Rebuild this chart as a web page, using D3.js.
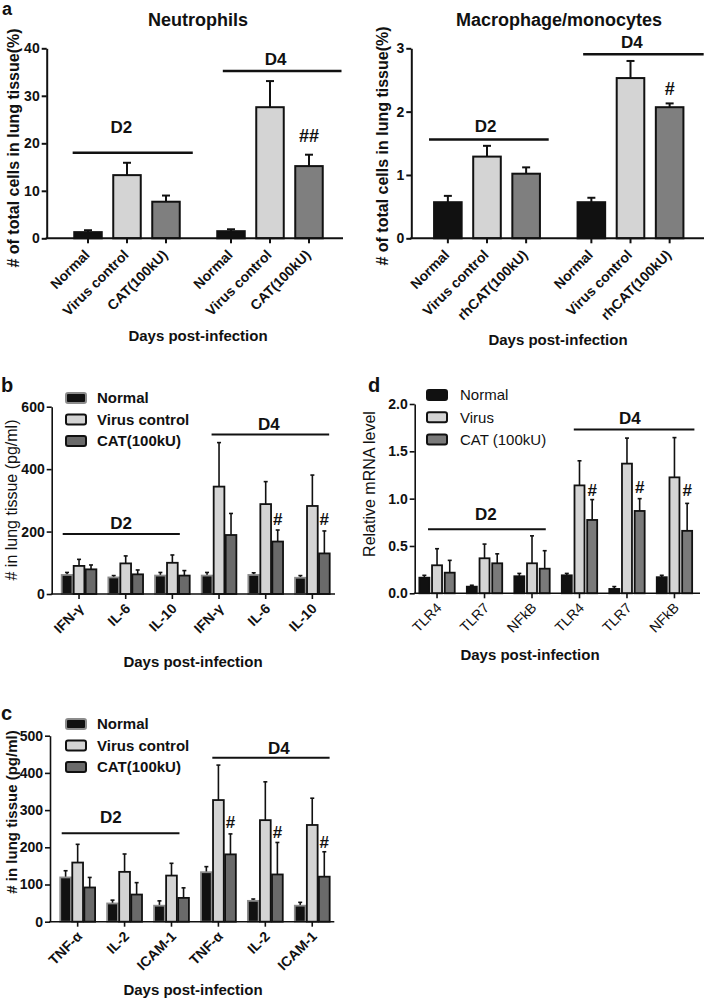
<!DOCTYPE html>
<html><head><meta charset="utf-8">
<script src="https://cdn.jsdelivr.net/npm/d3@7"></script>
<style>
body{margin:0;background:#fff}
svg{display:block}
text{font-family:"Liberation Sans",Arial,sans-serif;fill:#111}
</style>
</head><body>
<svg id="fig" width="704" height="1000"></svg>
<script>
// ---------------- DATA ----------------
const days = ["D2", "D4"];

// Panel a (left): Neutrophils
const neutroTreat = ["Normal", "Virus control", "CAT(100kU)"];
const neutroD2 = [1.3, 13.3, 7.7];
const neutroD2Err = [0.4, 2.6, 1.3];
const neutroD4 = [1.5, 27.6, 15.2];
const neutroD4Err = [0.4, 5.5, 2.4];
const neutroTicks = [0, 10, 20, 30, 40];

// Panel a (right): Macrophage/monocytes
const macroTreat = ["Normal", "Virus control", "rhCAT(100kU)"];
const macroD2 = [0.57, 1.29, 1.02];
const macroD2Err = [0.10, 0.17, 0.10];
const macroD4 = [0.57, 2.53, 2.07];
const macroD4Err = [0.07, 0.27, 0.06];
const macroTicks = [0, 1, 2, 3];

// Panel b
const bCats = ["IFN-γ", "IL-6", "IL-10", "IFN-γ", "IL-6", "IL-10"];
const bSeries = ["Normal", "Virus control", "CAT(100kU)"];
const bNormal = [61, 53, 59, 59, 61, 52];
const bNormalErr = [8, 6, 10, 10, 7, 7];
const bVirus = [90, 98, 100, 344, 288, 282];
const bVirusErr = [21, 24, 25, 141, 72, 99];
const bCAT = [79, 63, 59, 189, 168, 130];
const bCATErr = [14, 14, 16, 69, 37, 72];
const bTicks = [0, 200, 400, 600];

// Panel c
const cCats = ["TNF-α", "IL-2", "ICAM-1", "TNF-α", "IL-2", "ICAM-1"];
const cSeries = ["Normal", "Virus control", "CAT(100kU)"];
const cNormal = [119, 49, 43, 133, 56, 43];
const cNormalErr = [18, 9, 13, 15, 5, 9];
const cVirus = [159, 134, 124, 327, 273, 260];
const cVirusErr = [49, 48, 33, 94, 103, 72];
const cCAT = [92, 73, 64, 181, 127, 121];
const cCATErr = [27, 32, 27, 55, 86, 67];
const cTicks = [0, 100, 200, 300, 400, 500];

// Panel d
const dCats = ["TLR4", "TLR7", "NFkB", "TLR4", "TLR7", "NFkB"];
const dSeries = ["Normal", "Virus", "CAT (100kU)"];
const dNormal = [0.165, 0.07, 0.18, 0.19, 0.046, 0.17];
const dNormalErr = [0.025, 0.015, 0.03, 0.02, 0.025, 0.02];
const dVirus = [0.296, 0.37, 0.317, 1.14, 1.37, 1.225];
const dVirusErr = [0.175, 0.15, 0.29, 0.26, 0.27, 0.42];
const dCAT = [0.218, 0.317, 0.26, 0.775, 0.87, 0.66];
const dCATErr = [0.13, 0.10, 0.19, 0.215, 0.13, 0.29];
const dTicks = [0, 0.5, 1.0, 1.5, 2.0];

// Day brackets (value level, label level, extent in category units)
const aLeftBrackets = [
  {label: "D2", y: 18, ly: 22.2, from: 0.12, to: 0.96, lx: 0.46},
  {label: "D4", y: 35.2, ly: 36.5, from: 1.17, to: 2.0, lx: 1.54}];
const aRightBrackets = [
  {label: "D2", y: 1.56, ly: 1.68, from: 0.096, to: 0.93, lx: 0.49},
  {label: "D4", y: 2.905, ly: 3.0, from: 1.17, to: 2.01, lx: 1.51}];
const bBrackets = [
  {label: "D2", y: 192, ly: 207, from: 0.15, to: 2.66, lx: 1.4},
  {label: "D4", y: 511, ly: 525, from: 3.34, to: 5.86, lx: 4.57}];
const cBrackets = [
  {label: "D2", y: 238, ly: 264, from: 0.16, to: 2.67, lx: 1.21},
  {label: "D4", y: 441, ly: 450, from: 3.37, to: 5.87, lx: 4.79}];
const dBrackets = [
  {label: "D2", y: 0.676, ly: 0.774, from: 0.31, to: 2.79, lx: 1.53},
  {label: "D4", y: 1.73, ly: 1.785, from: 3.38, to: 5.92, lx: 4.56}];

// Significance marks: (group/category index, series index, value level)
const aLeftMarks = [{g: 1, s: 2, v: 20.3, t: "##"}];
const aRightMarks = [{g: 1, s: 2, v: 2.26, t: "#"}];
const bMarks = [{g: 4, s: 2, v: 221, t: "#"}, {g: 5, s: 2, v: 221, t: "#"}];
const cMarks = [{g: 3, s: 2, v: 251, t: "#"}, {g: 4, s: 2, v: 224, t: "#"}, {g: 5, s: 2, v: 197, t: "#"}];
const dMarks = [{g: 3, s: 2, v: 1.027, t: "#"}, {g: 4, s: 2, v: 1.062, t: "#"}, {g: 5, s: 2, v: 1.027, t: "#"}];

// ---------------- DRAWING ----------------
const svg = d3.select("#fig");
const FONT = '"Liberation Sans",Arial,sans-serif';

function yAxis(g, y, ticks, fmt, frame, st) {
  const ax = g.append("g").attr("transform", `translate(${frame.left},0)`)
    .call(d3.axisLeft(y).tickValues(ticks).tickFormat(fmt).tickSize(5).tickSizeOuter(0).tickPadding(2));
  ax.select(".domain").attr("stroke", "#111").attr("stroke-width", st.axisW);
  ax.selectAll(".tick line").attr("stroke", "#111").attr("stroke-width", st.axisW);
  ax.selectAll(".tick text").attr("font-size", st.yTickSize).attr("font-weight", st.yTickWeight)
    .attr("font-family", FONT).attr("fill", "#111");
}

function xBaseline(g, y, frame, st) {
  g.append("line").attr("x1", frame.left - st.axisW / 2).attr("x2", frame.right)
    .attr("y1", y(0)).attr("y2", y(0)).attr("stroke", "#111").attr("stroke-width", st.axisW);
}

function drawBars(g, bars, y, st) {
  const bg = g.append("g");
  bg.selectAll("line.err").data(bars).join("line").attr("class", "err")
    .attr("x1", d => d.cx).attr("x2", d => d.cx)
    .attr("y1", d => y(d.v)).attr("y2", d => y(d.v + d.e))
    .attr("stroke", "#111").attr("stroke-width", st.errW);
  bg.selectAll("line.cap").data(bars).join("line").attr("class", "cap")
    .attr("x1", d => d.cx - st.cap / 2).attr("x2", d => d.cx + st.cap / 2)
    .attr("y1", d => y(d.v + d.e)).attr("y2", d => y(d.v + d.e))
    .attr("stroke", "#111").attr("stroke-width", st.errW);
  bg.selectAll("rect").data(bars).join("rect")
    .attr("x", d => d.x).attr("width", d => d.w)
    .attr("y", d => y(d.v)).attr("height", d => y(0) - y(d.v))
    .attr("fill", d => d.fill).attr("stroke", d => d.stroke).attr("stroke-width", st.barW);
}

function xLabels(g, items, y, st) {
  g.selectAll("line.xt").data(items).join("line").attr("class", "xt")
    .attr("x1", d => d.cx).attr("x2", d => d.cx).attr("y1", y(0)).attr("y2", y(0) + 5)
    .attr("stroke", "#111").attr("stroke-width", st.axisW);
  g.selectAll("text.xl").data(items).join("text").attr("class", "xl")
    .attr("transform", d => `translate(${d.cx + st.lx},${y(0) + st.ly}) rotate(-45)`)
    .attr("text-anchor", "end").attr("dy", "0.35em")
    .attr("font-size", st.xTickSize).attr("font-weight", st.xTickWeight)
    .text(d => d.label);
}

function brackets(g, list, xOf, y, st) {
  g.selectAll("line.br").data(list).join("line").attr("class", "br")
    .attr("x1", d => xOf(d.from)).attr("x2", d => xOf(d.to))
    .attr("y1", d => y(d.y)).attr("y2", d => y(d.y))
    .attr("stroke", "#111").attr("stroke-width", st.brW);
  g.selectAll("text.brl").data(list).join("text").attr("class", "brl")
    .attr("x", d => xOf(d.lx)).attr("y", d => y(d.ly))
    .attr("text-anchor", "middle").attr("font-size", st.dSize).attr("font-weight", "bold")
    .text(d => d.label);
}

function marks(g, list, barAt, y, st) {
  g.selectAll("text.mk").data(list).join("text").attr("class", "mk")
    .attr("x", d => barAt(d.g, d.s)).attr("y", d => y(d.v))
    .attr("text-anchor", "middle").attr("font-size", st.markSize).attr("font-weight", "bold")
    .text(d => d.t);
}

function text(g, x, y, s, size, weight, rot, anchor) {
  const t = g.append("text").attr("font-size", size).attr("font-weight", weight || "normal")
    .attr("text-anchor", anchor || "middle").text(s);
  if (rot) t.attr("transform", `translate(${x},${y}) rotate(${rot})`);
  else t.attr("x", x).attr("y", y);
  return t;
}

// ---- Panel type A (grouped by day, labels per bar) ----
function panelA(cfg) {
  const g = svg.append("g");
  const f = cfg.frame, st = cfg.style;
  const y = d3.scaleLinear().domain([0, cfg.ticks[cfg.ticks.length - 1]]).range([f.bottom, f.top]);
  const x0 = d3.scaleBand().domain(days).range(cfg.range).padding(0);
  const x1 = d3.scaleBand().domain(cfg.treat).range([0, x0.bandwidth()])
    .paddingInner(0.295).paddingOuter(0.481);
  const bars = [];
  const labels = [];
  days.forEach((d, gi) => {
    cfg.treat.forEach((t, si) => {
      const x = x0(d) + x1(t);
      bars.push({x, w: x1.bandwidth(), cx: x + x1.bandwidth() / 2,
        v: cfg.values[gi][si], e: cfg.errs[gi][si], fill: cfg.fills[si], stroke: "#111"});
      labels.push({cx: x + x1.bandwidth() / 2, label: t});
    });
  });
  const dayX = u => cfg.range[0] + u * x0.step();
  brackets(g, cfg.brackets, dayX, y, st);
  drawBars(g, bars, y, st);
  yAxis(g, y, cfg.ticks, cfg.fmt, f, st);
  xBaseline(g, y, f, st);
  xLabels(g, labels, y, st);
  marks(g, cfg.marks, (gi, si) => x0(days[gi]) + x1(cfg.treat[si]) + x1.bandwidth() / 2, y, st);
  text(g, cfg.titleX, cfg.titleY, cfg.title, 18, "bold");
  text(g, cfg.ylabX, cfg.ylabY, cfg.ylab, 16, "bold", -90);
  text(g, cfg.xlabX, cfg.xlabY, "Days post-infection", 15, "bold");
}

// ---- Panel type B (6 categories x 3 series, legend) ----
function panelB(cfg) {
  const g = svg.append("g");
  const f = cfg.frame, st = cfg.style;
  const y = d3.scaleLinear().domain([0, cfg.ticks[cfg.ticks.length - 1]]).range([f.bottom, f.top]);
  const idx = d3.range(cfg.cats.length);
  const x = d3.scaleBand().domain(idx).range(cfg.range).padding(0);
  const xs = d3.scaleBand().domain(cfg.series).range([0, x.bandwidth()])
    .paddingInner(st.pin).paddingOuter(st.pout);
  const bars = [];
  cfg.series.forEach((s, si) => {
    idx.forEach(i => {
      const bx = x(i) + xs(s);
      bars.push({x: bx, w: xs.bandwidth(), cx: bx + xs.bandwidth() / 2,
        v: cfg.values[si][i], e: cfg.errs[si][i], fill: cfg.fills[si], stroke: cfg.strokes[si]});
    });
  });
  const catX = u => cfg.range[0] + u * x.step();
  brackets(g, cfg.brackets, catX, y, st);
  drawBars(g, bars, y, st);
  yAxis(g, y, cfg.ticks, cfg.fmt, f, st);
  xBaseline(g, y, f, st);
  xLabels(g, idx.map(i => ({cx: x(i) + x.bandwidth() / 2, label: cfg.cats[i]})), y, st);
  marks(g, cfg.marks, (gi, si) => x(gi) + xs(cfg.series[si]) + xs.bandwidth() / 2, y, st);
  const lg = g.append("g");
  cfg.series.forEach((s, i) => {
    const ly = cfg.legend.y + i * cfg.legend.dy;
    lg.append("rect").attr("x", cfg.legend.x).attr("y", ly - 5).attr("width", 20).attr("height", 10)
      .attr("rx", 2).attr("fill", cfg.fills[i]).attr("stroke", cfg.strokes[i]).attr("stroke-width", 2);
    lg.append("text").attr("x", cfg.legend.x + cfg.legend.tx).attr("y", ly).attr("dy", "0.36em")
      .attr("font-size", 15).attr("font-weight", cfg.legend.weight).text(s);
  });
  text(g, cfg.ylabX, cfg.ylabY, cfg.ylab, cfg.ylabSize, cfg.ylabWeight, -90);
  text(g, cfg.xlabX, cfg.xlabY, "Days post-infection", 15, "bold");
}

const styleA = {axisW: 2, barW: 2, errW: 2, cap: 8, yTickSize: 14, yTickWeight: "bold",
  xTickSize: 14, xTickWeight: "bold", lx: -1, ly: 14, brW: 2.5, dSize: 17, markSize: 18};
const styleB = {axisW: 1.6, barW: 1.8, errW: 1.6, cap: 4, yTickSize: 14, yTickWeight: "bold",
  xTickSize: 14, xTickWeight: "bold", lx: 2, ly: 12, brW: 2, dSize: 17, markSize: 17,
  pin: 0.108, pout: 0.5};
const styleD = Object.assign({}, styleB, {xTickWeight: "normal",
  pin: 0.213, pout: 0.477});

panelA({
  frame: {left: 46.7, right: 343, top: 48.3, bottom: 238.3}, range: [55.5, 341.5],
  treat: neutroTreat, values: [neutroD2, neutroD4], errs: [neutroD2Err, neutroD4Err],
  ticks: neutroTicks, fmt: d3.format("d"), fills: ["#111", "#d4d4d4", "#7f7f7f"],
  brackets: aLeftBrackets, marks: aLeftMarks, style: styleA,
  title: "Neutrophils", titleX: 198, titleY: 26,
  ylab: "# of total cells in lung tissue(%)", ylabX: 19, ylabY: 148,
  xlabX: 198, xlabY: 341
});
panelA({
  frame: {left: 411.3, right: 704, top: 48.3, bottom: 238.3}, range: [415.25, 702.25],
  treat: macroTreat, values: [macroD2, macroD4], errs: [macroD2Err, macroD4Err],
  ticks: macroTicks, fmt: d3.format("d"), fills: ["#111", "#d4d4d4", "#7f7f7f"],
  brackets: aRightBrackets, marks: aRightMarks, style: styleA,
  title: "Macrophage/monocytes", titleX: 559, titleY: 26,
  ylab: "# of total cells in lung tissue(%)", ylabX: 388, ylabY: 146,
  xlabX: 558, xlabY: 345
});
panelB({
  frame: {left: 51.7, right: 335, top: 406.7, bottom: 594}, range: [55.7, 335.7],
  cats: bCats, series: bSeries, values: [bNormal, bVirus, bCAT], errs: [bNormalErr, bVirusErr, bCATErr],
  ticks: bTicks, fmt: d3.format("d"), fills: ["#111", "#d4d4d4", "#6a6a6a"],
  strokes: ["#8c8c8c", "#111", "#111"], brackets: bBrackets, marks: bMarks, style: styleB,
  legend: {x: 66, y: 398, dy: 21.5, tx: 31, weight: "bold"},
  ylab: "# in lung tissue (pg/ml)", ylabX: 17, ylabY: 500, ylabSize: 16, ylabWeight: "normal",
  xlabX: 193, xlabY: 667
});
panelB({
  frame: {left: 414.7, right: 700, top: 404, bottom: 593.3}, range: [413.3, 698.2],
  cats: dCats, series: dSeries, values: [dNormal, dVirus, dCAT], errs: [dNormalErr, dVirusErr, dCATErr],
  ticks: dTicks, fmt: d3.format(".1f"), fills: ["#111", "#d4d4d4", "#7a7a7a"],
  strokes: ["#111", "#111", "#111"], brackets: dBrackets, marks: dMarks, style: styleD,
  legend: {x: 427, y: 395, dy: 22.3, tx: 33, weight: "normal"},
  ylab: "Relative mRNA level", ylabX: 375, ylabY: 484, ylabSize: 16, ylabWeight: "normal",
  xlabX: 530, xlabY: 660
});
panelB({
  frame: {left: 50, right: 334.3, top: 735.7, bottom: 921.7}, range: [54.2, 335.7],
  cats: cCats, series: cSeries, values: [cNormal, cVirus, cCAT], errs: [cNormalErr, cVirusErr, cCATErr],
  ticks: cTicks, fmt: d3.format("d"), fills: ["#111", "#d4d4d4", "#6a6a6a"],
  strokes: ["#8c8c8c", "#111", "#111"], brackets: cBrackets, marks: cMarks, style: styleB,
  legend: {x: 66, y: 724, dy: 21.5, tx: 31, weight: "bold"},
  ylab: "# in lung tissue (pg/ml)", ylabX: 17, ylabY: 812, ylabSize: 15, ylabWeight: "bold",
  xlabX: 193, xlabY: 995
});

// panel letters
text(svg, 2, 15, "a", 18, "bold", 0, "start");
text(svg, 1, 392, "b", 20, "bold", 0, "start");
text(svg, 368, 392, "d", 20, "bold", 0, "start");
text(svg, 1, 720, "c", 20, "bold", 0, "start");
</script>
</body></html>
